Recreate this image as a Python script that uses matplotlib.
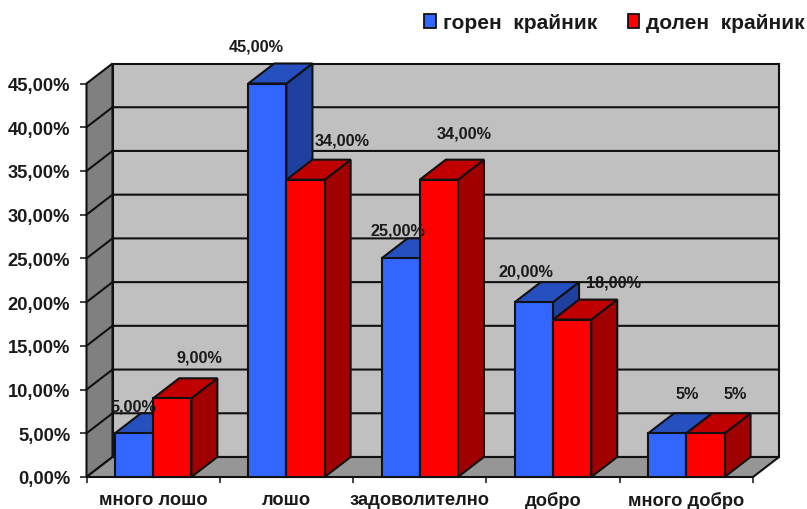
import matplotlib
matplotlib.use("Agg")
import matplotlib.pyplot as plt
from matplotlib.patches import Polygon, Patch

categories = ["много лошо", "лошо", "задоволително", "добро", "много добро"]
upper_limb = [5, 45, 25, 20, 5]
lower_limb = [9, 34, 34, 18, 5]
upper_labels = ["5,00%", "45,00%", "25,00%", "20,00%", "5%"]
lower_labels = ["9,00%", "34,00%", "34,00%", "18,00%", "5%"]
y_ticks = [0, 5, 10, 15, 20, 25, 30, 35, 40, 45]
y_tick_labels = ["0,00%", "5,00%", "10,00%", "15,00%", "20,00%",
                 "25,00%", "30,00%", "35,00%", "40,00%", "45,00%"]
series_names = ["горен  крайник", "долен  крайник"]

# Hand-placed label offsets from each bar's top, in pixels
upper_offsets = [(-1, 27), (-11, 37), (-3, 28), (-8, 31), (20, 40)]
lower_offsets = [(27, 41), (37, 40), (25, 47), (41, 38), (30, 40)]

plt.rcParams["font.family"] = ["Liberation Sans", "DejaVu Sans"]
plt.rcParams["font.weight"] = "bold"

W, H = 807, 510
fig = plt.figure(figsize=(W / 100, H / 100), dpi=100)
L, R, T, B = 86.5, 753, 84.5, 478
ax = fig.add_axes([L / W, 1 - B / H, (R - L) / W, (B - T) / H])
ax.set_xlim(-0.5, 4.5)
ax.set_ylim(0, 45)
ax.patch.set_visible(False)

# Oblique depth of the box, expressed in data units
DX = 26 / ((R - L) / 5)
DY = 20 / ((B - T) / 45)
BAR_W = 38.2 / ((R - L) / 5)
EDGE = 1.5


def face(points, color, z):
    ax.add_patch(Polygon(points, closed=True, facecolor=color, edgecolor="#111111",
                         linewidth=EDGE, zorder=z, clip_on=False, joinstyle="miter"))


x0, x1, ytop = -0.5, 4.5, 45
# Walls and floor of the plot box
face([(x0 + DX, DY), (x1 + DX, DY), (x1 + DX, ytop + DY), (x0 + DX, ytop + DY)], "#C0C0C0", 1)
face([(x0, 0), (x0 + DX, DY), (x0 + DX, ytop + DY), (x0, ytop)], "#808080", 1)
face([(x0, 0), (x1, 0), (x1 + DX, DY), (x0 + DX, DY)], "#969696", 1)

# Gridlines run across the left wall and the back wall
for v in y_ticks[1:-1]:
    ax.plot([x0, x0 + DX, x1 + DX], [v, v + DY, v + DY], color="#111111",
            lw=EDGE, zorder=2, clip_on=False, solid_joinstyle="miter")


def bar3d(x, v, front, top, side, z):
    left, right = x - BAR_W, x
    face([(right, 0), (right + DX, DY), (right + DX, v + DY), (right, v)], side, z)
    face([(left, v), (right, v), (right + DX, v + DY), (left + DX, v + DY)], top, z)
    ax.bar(left, v, BAR_W, align="edge", color=front, edgecolor="#111111",
           linewidth=EDGE, zorder=z + 0.1, clip_on=False)


for i in range(len(categories)):
    z = 3 + i
    bar3d(i, upper_limb[i], "#3366FF", "#264FBF", "#2040A0", z)
    bar3d(i + BAR_W, lower_limb[i], "#FF0000", "#C00000", "#A00000", z + 0.3)

# Value labels sit above the bars
for i in range(len(categories)):
    ax.annotate(upper_labels[i], (i - BAR_W / 2, upper_limb[i]), xytext=upper_offsets[i],
                textcoords="offset pixels", ha="center", va="center", fontsize=11.7,
                color="#1a1a1a", zorder=20, annotation_clip=False)
    ax.annotate(lower_labels[i], (i + BAR_W / 2, lower_limb[i]), xytext=lower_offsets[i],
                textcoords="offset pixels", ha="center", va="center", fontsize=11.7,
                color="#1a1a1a", zorder=20, annotation_clip=False)

for s in ax.spines.values():
    s.set_visible(False)
ax.set_yticks(y_ticks, y_tick_labels)
ax.tick_params(axis="y", length=4.7, width=1.1, color="#111111", pad=7,
               labelsize=13.2, labelcolor="#1a1a1a")
ax.set_xticks(range(len(categories)), categories)
ax.tick_params(axis="x", which="major", length=0, pad=10, labelsize=13.2, labelcolor="#1a1a1a")
ax.set_xticks([x0 + i for i in range(6)], minor=True)
ax.tick_params(axis="x", which="minor", length=4, width=1.1, color="#111111")

handles = [Patch(facecolor="#3366FF", edgecolor="#111111", linewidth=1.3),
           Patch(facecolor="#FF0000", edgecolor="#111111", linewidth=1.3)]
fig.legend(handles, series_names, loc="upper right", bbox_to_anchor=(805 / W, 1 - 14 / H),
           ncol=2, frameon=False, fontsize=15, borderpad=0, borderaxespad=0,
           handlelength=0.55, handleheight=0.65, handletextpad=0.35, columnspacing=1.45,
           labelcolor="#1a1a1a")

fig.savefig("out.png", dpi=100)
